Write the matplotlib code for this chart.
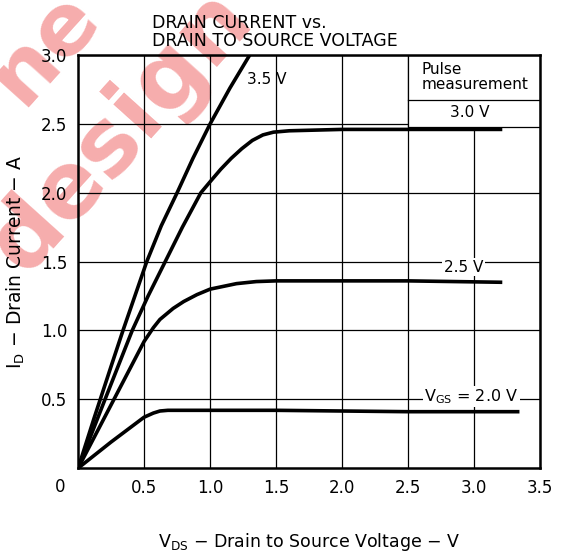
import matplotlib
matplotlib.use("Agg")
import matplotlib.pyplot as plt
from matplotlib.patches import Rectangle

# data (VDS in V, ID in A)
v_35 = [0, 0.12, 0.25, 0.34, 0.43, 0.52, 0.63, 0.75, 0.87, 1.0, 1.15, 1.30]
i_35 = [0, 0.36, 0.74, 1.0, 1.25, 1.5, 1.76, 2.0, 2.25, 2.5, 2.76, 3.0]

v_30 = [0, 0.2, 0.41, 0.53, 0.66, 0.79, 0.93, 1.0, 1.08, 1.16, 1.24, 1.32,
        1.40, 1.48, 1.6, 2.0, 2.5, 3.2]
i_30 = [0, 0.49, 1.0, 1.25, 1.5, 1.75, 2.0, 2.08, 2.17, 2.25, 2.32, 2.38,
        2.42, 2.44, 2.45, 2.46, 2.46, 2.46]

v_25 = [0, 0.25, 0.5, 0.57, 0.62, 0.67, 0.72, 0.8, 0.9, 1.0, 1.1, 1.2, 1.35,
        1.5, 2.0, 2.5, 3.2]
i_25 = [0, 0.46, 0.92, 1.02, 1.08, 1.12, 1.16, 1.21, 1.26, 1.30, 1.32, 1.34,
        1.355, 1.36, 1.36, 1.36, 1.35]

v_20 = [0, 0.25, 0.5, 0.57, 0.62, 0.68, 0.8, 1.5, 2.5, 3.33]
i_20 = [0, 0.19, 0.37, 0.40, 0.415, 0.42, 0.42, 0.42, 0.41, 0.41]

x_ticks = [0.5, 1.0, 1.5, 2.0, 2.5, 3.0, 3.5]
y_ticks = [0.5, 1.0, 1.5, 2.0, 2.5, 3.0]

plt.rcParams['font.family'] = ['DejaVu Sans']

fig = plt.figure(figsize=(5.62, 5.56), dpi=100)
ax = fig.add_axes([0.139, 0.158, 0.822, 0.743])

# watermark, kept underneath everything
wm = '#f6adad'
fig.text(0.215, 0.765, "design", color=wm, fontsize=66, fontweight='bold',
         rotation=48, ha='center', va='center', rotation_mode='anchor', zorder=-1)
fig.text(0.08, 0.915, "ne", color=wm, fontsize=62, fontweight='bold',
         rotation=48, ha='center', va='center', rotation_mode='anchor', zorder=-1)
ax.patch.set_alpha(0)

ax.set_xlim(0, 3.5)
ax.set_ylim(0, 3.0)
ax.set_xticks(x_ticks)
ax.set_yticks(y_ticks)
ax.set_xticklabels(["%.1f" % v for v in x_ticks])
ax.set_yticklabels(["%.1f" % v for v in y_ticks])
ax.tick_params(length=0, labelsize=12, pad=8)
ax.grid(True, color='black', linewidth=0.9)
for s in ax.spines.values():
    s.set_linewidth(1.8)
ax.text(-0.1, -0.14, "0", fontsize=12, ha='right', va='center')

lw = 2.6
ax.plot(v_35, i_35, color='black', lw=lw, zorder=3)
ax.plot(v_30, i_30, color='black', lw=lw, zorder=3)
ax.plot(v_25, i_25, color='black', lw=lw, zorder=3)
ax.plot(v_20, i_20, color='black', lw=lw, zorder=3)

# pulse measurement box
ax.add_patch(Rectangle((2.5, 2.48), 1.0, 0.52, facecolor='white',
                       edgecolor='black', lw=0.9, zorder=2))
ax.plot([2.5, 3.5], [2.67, 2.67], color='black', lw=0.9, zorder=2)
ax.text(2.6, 2.84, "Pulse\nmeasurement", fontsize=11, ha='left', va='center',
        linespacing=1.0, zorder=4)
ax.text(2.97, 2.58, "3.0 V", fontsize=11, ha='center', va='center', zorder=4)

bb = dict(facecolor='white', edgecolor='none', pad=1)
ax.text(1.28, 2.82, "3.5 V", fontsize=11, ha='left', va='center', zorder=4)
ax.text(2.92, 1.46, "2.5 V", fontsize=11, ha='center', va='center', bbox=bb, zorder=4)
ax.text(2.98, 0.52, "$\\mathregular{V_{GS}}$ = 2.0 V", fontsize=11.5,
        ha='center', va='center', bbox=bb, zorder=4)

fig.text(0.27, 0.975, "DRAIN CURRENT vs.\nDRAIN TO SOURCE VOLTAGE", fontsize=12.5,
         ha='left', va='top', linespacing=1.0)
ax.set_xlabel("$\\mathregular{V_{DS}}$ − Drain to Source Voltage − V", fontsize=12.5,
              labelpad=24)
ax.set_ylabel("$\\mathregular{I_D}$ − Drain Current − A", fontsize=13.5, labelpad=10)

fig.savefig("out.png", dpi=100)
